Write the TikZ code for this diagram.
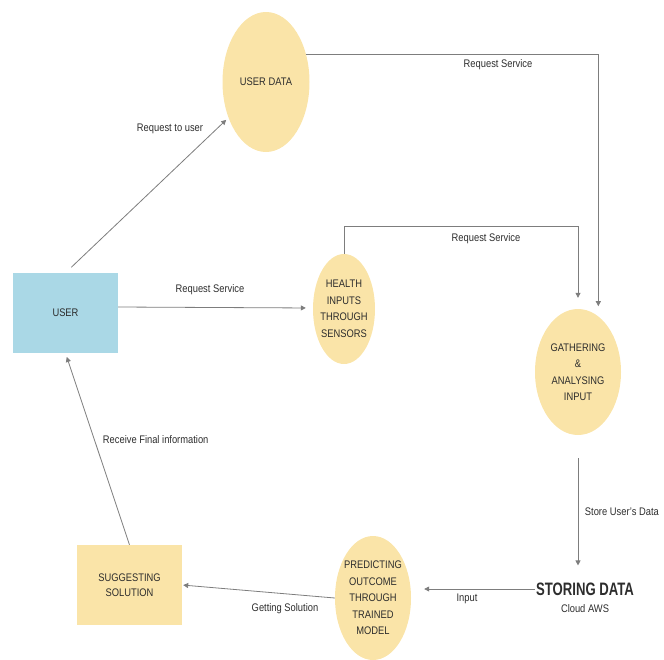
\documentclass[tikz,border=0pt]{standalone}
\usepackage{fontspec}
\setmainfont{Liberation Sans}[FakeStretch=0.85]
\newfontfamily\titlefont{Liberation Sans}[FakeStretch=0.73]
\usetikzlibrary{arrows.meta, shapes.geometric}
\definecolor{procfill}{RGB}{250,228,168}
\definecolor{userfill}{RGB}{170,216,230}
\definecolor{linegray}{RGB}{125,125,125}
\definecolor{textgray}{RGB}{45,45,45}

\begin{document}
\begin{tikzpicture}[x=1pt, y=-1pt,
  process/.style={ellipse, fill=procfill, inner xsep=-6pt, inner ysep=0pt, align=center, text=textgray, font=\fontsize{11}{16.5}\selectfont},
  entity/.style={rectangle, inner sep=0pt, align=center, text=textgray, minimum width=105pt, minimum height=80pt, font=\fontsize{11}{15}\selectfont},
  flow/.style={draw=linegray, line width=0.8pt, -{Triangle[width=5pt,length=5pt]}},
  flowtext/.style={inner sep=0.75pt, text=textgray, font=\fontsize{11}{13}\selectfont}]
\useasboundingbox (0,0) rectangle (664,659);
%Nodes
\node [process, minimum width=87pt, minimum height=140pt] (userdata) at (266,82) {USER DATA};
\node [entity, fill=userfill] (user) at (65.5,313) {USER};
\node [process, minimum width=62pt, minimum height=110pt] (health) at (344,309) {HEALTH\\INPUTS\\THROUGH\\SENSORS};
\node [process, minimum width=86pt, minimum height=126pt] (gather) at (578,372) {GATHERING\\\&\\ANALYSING\\INPUT};
\node [process, minimum width=76pt, minimum height=124pt] (predict) at (373,598) {PREDICTING\\OUTCOME\\THROUGH\\TRAINED\\MODEL};
\node [entity, fill=procfill] (suggest) at (129.5,585) {SUGGESTING\\SOLUTION};
\node [inner sep=1pt, text=textgray, font=\titlefont\bfseries\fontsize{18}{20}\selectfont] (storing) at (585,589) {STORING DATA};
\node [flowtext] (cloud) at (585,609) {Cloud AWS};
%Flows
\draw [flow, shorten <=8pt, shorten >=3pt] (user.north) -- (userdata);
\draw [flow, shorten >=10pt] (userdata.34) -| (gather.70);
\draw [flow, shorten >=7pt] ([yshift=6pt]user.east) -- ([yshift=1pt]health.west);
\draw [flow, shorten >=11pt] (health.north) -- (health.north |- 0,226) -| (gather.north);
\draw [flow, shorten <=23pt, shorten >=16pt] (gather.south) -- (gather.south |- storing.north);
\draw [flow, shorten >=13pt] (storing.west) -- (storing.west -| predict.east);
\draw [flow, shorten >=1pt] (predict.west) -- (suggest.east);
\draw [flow, shorten >=4pt] (suggest.north) -- (user.south);
%Text
\node [flowtext] (requser) at (170,129) {Request to user};
\node [flowtext] (reqtop) at (498,65) {Request Service};
\node [flowtext] (reqmid) at (486,239) {Request Service};
\node [flowtext] (requsersvc) at (210,290) {Request Service};
\node [flowtext, anchor=west] (recvinfo) at (102,440) {Receive Final information};
\node [flowtext, anchor=west] (storelbl) at (584,512) {Store User's Data};
\node [flowtext] (inputlbl) at (467,599) {Input};
\node [flowtext] (getsol) at (285,609) {Getting Solution};
\end{tikzpicture}
\end{document}
